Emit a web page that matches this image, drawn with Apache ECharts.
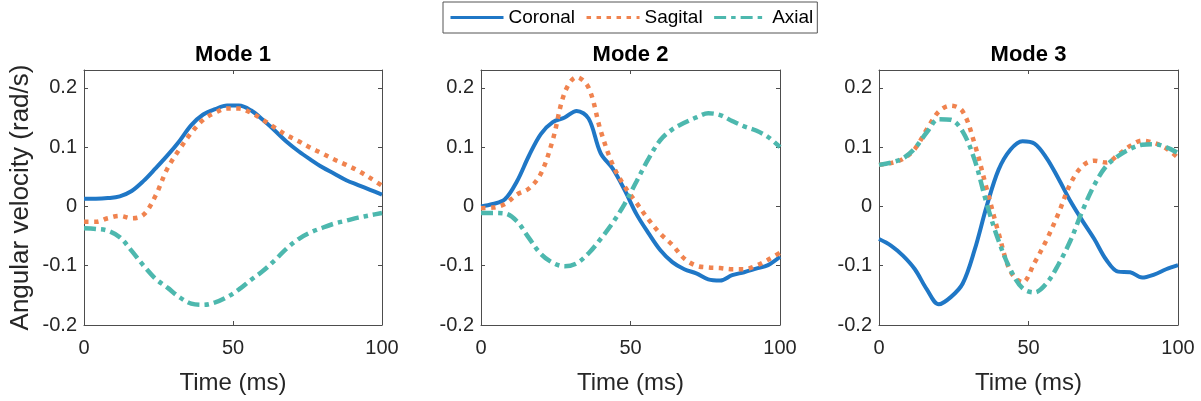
<!DOCTYPE html>
<html>
<head>
<meta charset="utf-8">
<script src="https://cdn.jsdelivr.net/npm/echarts@6/dist/echarts.min.js"></script>
<style>
html,body{margin:0;padding:0;background:#fff;}
#c{width:1201px;height:401px;}
</style>
</head>
<body>
<div id="c"></div>
<script>
// ---- data (time in ms, angular velocity in rad/s) ----
const time = [0,4,8,12,16,20,24,28,32,36,40,44,48,52,56,60,64,68,72,76,80,84,88,92,96,100];
const modeTitles = ['Mode 1','Mode 2','Mode 3'];
const seriesNames = ['Coronal','Sagital','Axial'];
const yTicks = [-0.2,-0.1,0,0.1,0.2];
const xTicks = [0,50,100];

const mode1Coronal  = [0.013,0.013,0.014,0.017,0.026,0.043,0.064,0.086,0.110,0.137,0.155,0.164,0.170,0.170,0.162,0.146,0.128,0.109,0.093,0.079,0.066,0.055,0.044,0.036,0.028,0.020];
const mode1Sagital  = [-0.026,-0.026,-0.020,-0.016,-0.020,-0.014,0.018,0.064,0.096,0.124,0.146,0.158,0.165,0.165,0.158,0.146,0.133,0.120,0.110,0.099,0.089,0.079,0.070,0.060,0.048,0.035];
const mode1Axial    = [-0.037,-0.038,-0.041,-0.052,-0.075,-0.100,-0.122,-0.137,-0.153,-0.164,-0.166,-0.162,-0.153,-0.140,-0.124,-0.109,-0.091,-0.071,-0.055,-0.044,-0.036,-0.029,-0.024,-0.019,-0.015,-0.011];

const mode2Coronal  = [0.000,0.004,0.012,0.042,0.085,0.122,0.142,0.150,0.161,0.148,0.090,0.064,0.028,-0.013,-0.045,-0.074,-0.094,-0.106,-0.113,-0.123,-0.125,-0.116,-0.111,-0.105,-0.099,-0.085];
const mode2Sagital  = [-0.003,-0.002,0.004,0.020,0.030,0.055,0.112,0.192,0.218,0.200,0.128,0.071,0.034,0.006,-0.022,-0.046,-0.065,-0.088,-0.100,-0.103,-0.104,-0.106,-0.106,-0.100,-0.090,-0.078];
const mode2Axial    = [-0.011,-0.011,-0.012,-0.025,-0.053,-0.080,-0.095,-0.101,-0.096,-0.079,-0.055,-0.028,0.004,0.042,0.080,0.112,0.130,0.141,0.150,0.157,0.154,0.144,0.135,0.128,0.117,0.100];

const mode3Coronal  = [-0.055,-0.066,-0.083,-0.106,-0.140,-0.165,-0.153,-0.130,-0.073,0.000,0.062,0.096,0.110,0.106,0.082,0.047,0.009,-0.024,-0.055,-0.090,-0.110,-0.111,-0.120,-0.115,-0.106,-0.099];
const mode3Sagital  = [0.070,0.073,0.080,0.097,0.130,0.160,0.170,0.160,0.105,0.030,-0.045,-0.110,-0.128,-0.095,-0.057,-0.012,0.038,0.068,0.077,0.074,0.087,0.102,0.111,0.107,0.098,0.082];
const mode3Axial    = [0.070,0.074,0.081,0.098,0.125,0.147,0.146,0.126,0.078,0.005,-0.058,-0.107,-0.138,-0.145,-0.130,-0.098,-0.058,-0.008,0.036,0.068,0.085,0.097,0.104,0.105,0.100,0.090];

const modeData = [
  [mode1Coronal, mode1Sagital, mode1Axial],
  [mode2Coronal, mode2Sagital, mode2Axial],
  [mode3Coronal, mode3Sagital, mode3Axial]
];

// ---- styling ----
const FONT = '"Liberation Sans", Arial, Helvetica, sans-serif';
const colors = ['#1f77c6', '#f0834f', '#4db8ae'];
const lineTypes = ['solid', [4.5, 5.5], [12, 5, 4.5, 5]];
const lineWidths = [4, 4.5, 4.5];
const gridLefts = [84, 481, 879];
const gridWidths = [298, 299, 299];
const gridTop = 70, gridHeight = 255;
const axisColor = '#4d4d4d';
const textColor = '#262626';

const grids = [], xAxes = [], yAxes = [], series = [], graphics = [];
const isTick = (v, arr) => arr.some(t => Math.abs(t - v) < 1e-9);

for (let i = 0; i < 3; i++) {
  grids.push({left: gridLefts[i], top: gridTop, width: gridWidths[i], height: gridHeight, containLabel: false});
  xAxes.push({
    type: 'value', gridIndex: i, min: 0, max: 100, interval: 50, position: 'bottom',
    name: 'Time (ms)', nameLocation: 'middle', nameGap: 46,
    nameTextStyle: {fontFamily: FONT, fontSize: 24, color: textColor},
    axisLine: {show: true, onZero: false, lineStyle: {color: axisColor, width: 1}},
    axisTick: {show: true, inside: true, length: 4, lineStyle: {color: axisColor}},
    axisLabel: {fontFamily: FONT, fontSize: 20, color: textColor, margin: 13,
      formatter: v => isTick(v, xTicks) ? String(v) : ''},
    splitLine: {show: false}
  });
  yAxes.push({
    type: 'value', gridIndex: i, min: -0.2, max: 0.23, interval: 0.1, position: 'left',
    name: i === 0 ? 'Angular velocity (rad/s)' : '', nameLocation: 'middle', nameGap: 50, nameRotate: 90,
    nameTextStyle: {fontFamily: FONT, fontSize: 26, color: textColor},
    axisLine: {show: true, onZero: false, lineStyle: {color: axisColor, width: 1}},
    axisTick: {show: true, inside: true, length: 4, lineStyle: {color: axisColor}},
    axisLabel: {fontFamily: FONT, fontSize: 20, color: textColor, margin: 7,
      formatter: v => {
        const t = yTicks.find(x => Math.abs(x - v) < 1e-9);
        if (t === undefined) return '';
        return t === 0 ? '0' : String(t);
      }},
    splitLine: {show: false}
  });
}
for (let i = 0; i < 3; i++) {
  xAxes.push({
    type: 'value', gridIndex: i, min: 0, max: 100, interval: 50, position: 'top',
    axisLine: {show: true, onZero: false, lineStyle: {color: axisColor, width: 1}},
    axisTick: {show: true, inside: true, length: 4, lineStyle: {color: axisColor}},
    axisLabel: {show: false}, splitLine: {show: false}
  });
  yAxes.push({
    type: 'value', gridIndex: i, min: -0.2, max: 0.23, interval: 0.1, position: 'right',
    axisLine: {show: true, onZero: false, lineStyle: {color: axisColor, width: 1}},
    axisTick: {show: true, inside: true, length: 4, lineStyle: {color: axisColor}},
    axisLabel: {show: false}, splitLine: {show: false}
  });
}

for (let i = 0; i < 3; i++) {
  for (let s = 0; s < 3; s++) {
    const vals = modeData[i][s];
    series.push({
      name: seriesNames[s], type: 'line', xAxisIndex: i, yAxisIndex: i,
      data: time.map((t, k) => [t, vals[k]]),
      smooth: 0.35, symbol: 'none', showSymbol: false, clip: true,
      color: colors[s],
      lineStyle: {color: colors[s], width: lineWidths[s], type: lineTypes[s], cap: 'butt'},
      emphasis: {disabled: true}, silent: true, animation: false
    });
  }
  graphics.push({
    type: 'text', x: gridLefts[i] + gridWidths[i] / 2, y: 44,
    style: {text: modeTitles[i], fontFamily: FONT, fontSize: 22, fontWeight: 'bold', fill: '#000',
      align: 'center', textAlign: 'center', verticalAlign: 'top', textVerticalAlign: 'top'}
  });
}

const chart = echarts.init(document.getElementById('c'), null, {renderer: 'canvas'});
chart.setOption({
  animation: false,
  backgroundColor: '#fff',
  grid: grids,
  xAxis: xAxes,
  yAxis: yAxes,
  series: series,
  graphic: graphics,
  legend: {
    data: seriesNames, left: 443, top: 2, orient: 'horizontal',
    padding: [6, 4, 6, 6], itemGap: 10, itemWidth: 53, itemHeight: 16,
    borderColor: '#555', borderWidth: 1, backgroundColor: '#fff',
    itemStyle: {color: 'transparent', borderWidth: 0, opacity: 0},
    lineStyle: {width: 3},
    textStyle: {fontFamily: FONT, fontSize: 19, color: '#000', padding: [0, 0, 0, 0]}
  }
});
</script>
</body>
</html>
